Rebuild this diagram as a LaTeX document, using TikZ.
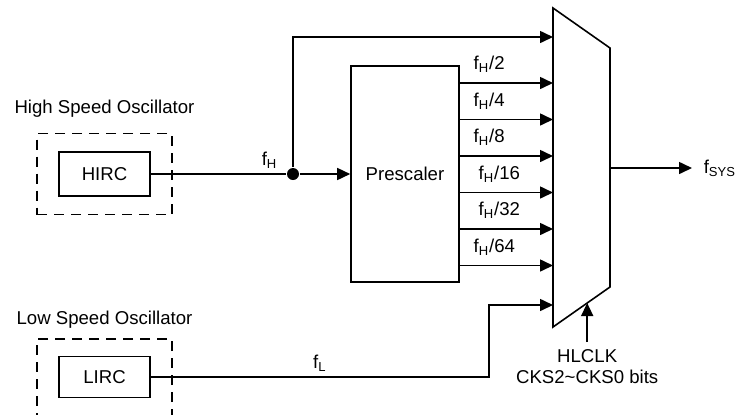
\documentclass[tikz,border=0pt]{standalone}
\usepackage{fontspec}
\setmainfont{Liberation Sans}
\usetikzlibrary{arrows.meta, positioning, calc}

\begin{document}
\begin{tikzpicture}[x=0.5pt, y=-0.5pt, line width=0.8pt,
    >={Triangle[length=6.5pt,width=6pt]},
    every node/.style={font=\fontsize{9.3}{10.5}\selectfont},
    block/.style={draw, minimum width=45.5pt, minimum height=22pt},
    osc/.style={draw, dash pattern=on 5pt off 3.5pt, minimum width=67.5pt, minimum height=40.5pt},
    lbl/.style={anchor=base west, pos=0, inner sep=0pt, xshift=6.5pt, yshift=6.6pt},
    flab/.style={anchor=base, inner sep=0pt, yshift=4.3pt}]
          \useasboundingbox (0,0) rectangle (735,414);

          \node (hirc) [block] at (104.5,174) {HIRC};
          \node (hosc) [osc] at (hirc) {};
          \node (hlab) [above = 4pt of hosc] {High Speed Oscillator};

          \node (lirc) [block, minimum height=20.5pt] at (104.5,377) {LIRC};
          \node (losc) [osc] at (104.5,379.5) {};
          \node (llab) [above = 1pt of losc] {Low Speed Oscillator};

          \node (pre) [draw, minimum width=54pt, minimum height=108pt] at (405,174) {Prescaler};
          \node (dot) [circle, fill, inner sep=0pt, minimum size=6pt] at (293,174) {};

          % multiplexer
          \coordinate (mtl) at (553,8);
          \coordinate (mtr) at (610,48);
          \coordinate (mbr) at (610,287);
          \coordinate (mbl) at (553,327);
          \draw (mtl) -- (mtr) -- (mbr) -- (mbl) -- cycle;

          \coordinate (in0) at (553,37);
          \coordinate (in1) at (553,83);
          \coordinate (in2) at (553,119.5);
          \coordinate (in3) at (553,156);
          \coordinate (in4) at (553,192.5);
          \coordinate (in5) at (553,229);
          \coordinate (in6) at (553,265.5);
          \coordinate (in7) at (553,305);
          \coordinate (out) at (610,168);
          \coordinate (selin) at ($(mbl)!0.6!(mbr)$);
          \coordinate (lbend) at (489,377);

          \node (fsys) [right = 41pt of out, inner xsep=5.5pt] {f\textsubscript{SYS}};
          \node (sel) [below = 19.5pt of selin, align=center] {HLCLK\\CKS2\textasciitilde CKS0 bits};

          \draw (hirc) -- node[flab, pos=0.877] {f\textsubscript{H}} (dot);
          \draw [->] (dot) |- (in0);
          \draw [->] (lirc) -- node[flab, midway] {f\textsubscript{L}} (lbend) |- (in7);

          \path [->]
              (dot) edge (pre)
              (pre.east |- in1) edge node[lbl] {f\textsubscript{H}/2} (in1)
              (pre.east |- in2) edge node[lbl] {f\textsubscript{H}/4} (in2)
              (pre.east |- in3) edge node[lbl] {f\textsubscript{H}/8} (in3)
              (pre.east |- in4) edge node[lbl, xshift=2.5pt] {f\textsubscript{H}/16} (in4)
              (pre.east |- in5) edge node[lbl, xshift=2.5pt] {f\textsubscript{H}/32} (in5)
              (pre.east |- in6) edge node[lbl] {f\textsubscript{H}/64} (in6)
              (out) edge (fsys)
              (sel) edge (selin)
              ;
\end{tikzpicture}
\end{document}
